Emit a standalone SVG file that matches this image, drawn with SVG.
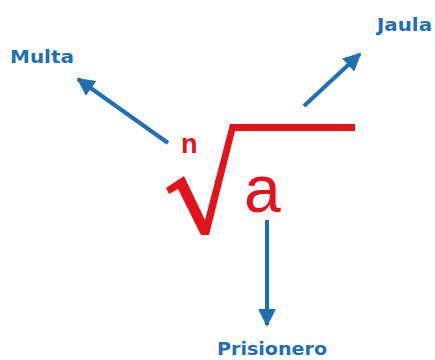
<svg xmlns="http://www.w3.org/2000/svg" width="435" height="360" viewBox="0 0 435 360">
<defs>
<marker id="ah" viewBox="0 0 10 10" refX="9" refY="5" markerWidth="4.5" markerHeight="5" markerUnits="strokeWidth" orient="auto">
<path d="M0,0 L10,5 L0,10 Z" fill="#1f6fb2"/>
</marker>
<style>
.lbl{font-family:"DejaVu Sans","Liberation Sans",sans-serif;font-weight:bold;font-size:17px;fill:#1f6fb2}
.conn{stroke:#1f6fb2;stroke-width:4;fill:none;marker-end:url(#ah)}
.red{fill:#e3131b;font-family:"Liberation Sans","DejaVu Sans",sans-serif}
</style>
</defs>
<rect width="435" height="360" fill="#ffffff"/>
<g id="connectors">
<line class="conn" x1="168" y1="143" x2="78" y2="79"/>
<line class="conn" x1="304" y1="106" x2="360" y2="54"/>
<line class="conn" x1="267" y1="220" x2="267" y2="325"/>
</g>
<g id="root">
<polygon class="red" points="166,188 184,176 205,220 230,124 355,124 355,131 235,131 209,235 201,235 178,189 169,194"/>
<text class="red" x="181" y="153" font-size="27" font-weight="bold">n</text>
<text class="red" x="244" y="212" font-size="66">a</text>
</g>
<g id="multa"><text class="lbl" x="10" y="63" textLength="64" lengthAdjust="spacingAndGlyphs">Multa</text></g>
<g id="jaula"><text class="lbl" x="377" y="31" textLength="55" lengthAdjust="spacingAndGlyphs">Jaula</text></g>
<g id="prisionero"><text class="lbl" x="217" y="355" textLength="110" lengthAdjust="spacingAndGlyphs">Prisionero</text></g>
</svg>
